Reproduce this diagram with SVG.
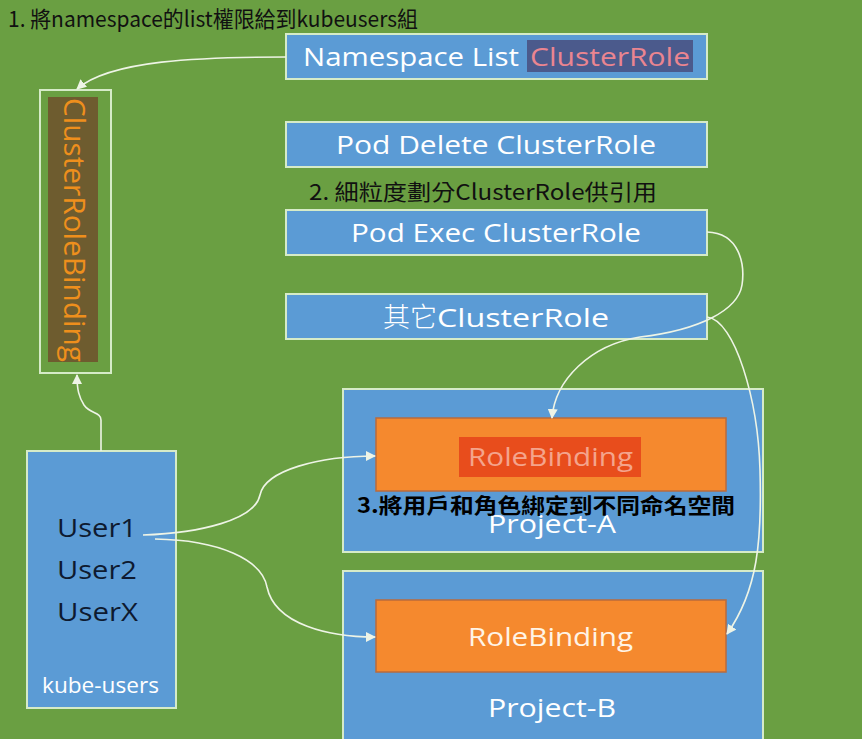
<svg xmlns="http://www.w3.org/2000/svg" width="862" height="739" viewBox="0 0 862 739">
<defs>
<marker id="ah" markerWidth="10" markerHeight="10" refX="9" refY="5" orient="auto" markerUnits="userSpaceOnUse">
<path d="M0,0 L10,5 L0,10 z" fill="#eef4e6"/>
</marker>
<style>
.sans{font-family:"Open Sans","Noto Sans","Noto Sans CJK TC",sans-serif;}
.cjk{font-family:"Noto Sans CJK TC","Noto Sans",sans-serif;}
.blue{fill:#5b9bd5;stroke:#d6ebc8;stroke-width:2;}
.orange{fill:#f5892e;stroke:#b96b3c;stroke-width:1.5;}
.wt{fill:#ffffff;font-size:26px;}
.con{fill:none;stroke:#eef4e6;stroke-width:1.6;marker-end:url(#ah);}
</style>
</defs>
<rect x="0" y="0" width="862" height="739" fill="#6a9f42"/>

<text class="cjk" x="8" y="27" font-size="22" fill="#111" textLength="410" lengthAdjust="spacingAndGlyphs">1. 將namespace的list權限給到kubeusers組</text>

<g id="ns-list">
<rect class="blue" x="286" y="34" width="421" height="45"/>
<rect x="527" y="40" width="166" height="32" fill="#4b5a8c"/>
<text class="sans wt" x="303" y="66" textLength="216" lengthAdjust="spacingAndGlyphs">Namespace List</text>
<text class="sans" x="530" y="66" font-size="26" fill="#ea8590" textLength="160" lengthAdjust="spacingAndGlyphs">ClusterRole</text>
</g>

<g id="pod-delete">
<rect class="blue" x="286" y="122" width="421" height="45"/>
<text class="sans wt" x="336" y="154" textLength="320" lengthAdjust="spacingAndGlyphs">Pod Delete ClusterRole</text>
</g>

<text class="cjk" x="309" y="200" font-size="22" fill="#111" textLength="348" lengthAdjust="spacingAndGlyphs">2. 細粒度劃分ClusterRole供引用</text>

<g id="pod-exec">
<rect class="blue" x="286" y="210" width="421" height="45"/>
<text class="sans wt" x="351" y="242" textLength="290" lengthAdjust="spacingAndGlyphs">Pod Exec ClusterRole</text>
</g>

<g id="other-role">
<rect class="blue" x="286" y="294" width="421" height="45"/>
<text class="cjk" x="383" y="327" font-size="27" font-weight="300" fill="#ffffff">其它</text>
<text class="sans wt" x="437" y="327" textLength="172" lengthAdjust="spacingAndGlyphs">ClusterRole</text>
</g>

<g id="crb">
<rect x="40" y="90" width="71" height="283" fill="none" stroke="#d6ebc8" stroke-width="2"/>
<rect x="48" y="97" width="50" height="265" fill="#6e5c2f"/>
<text class="sans" transform="translate(64,98) rotate(90)" x="0" y="0" font-size="29" fill="#ee8f1c" textLength="264" lengthAdjust="spacingAndGlyphs">ClusterRoleBinding</text>
</g>

<g id="kube-users">
<rect class="blue" x="27" y="451" width="149" height="257"/>
<text class="sans" x="57" y="537" font-size="26" fill="#0e1a30" textLength="80" lengthAdjust="spacingAndGlyphs">User1</text>
<text class="sans" x="57" y="579" font-size="26" fill="#0e1a30" textLength="80" lengthAdjust="spacingAndGlyphs">User2</text>
<text class="sans" x="57" y="621" font-size="26" fill="#0e1a30" textLength="81" lengthAdjust="spacingAndGlyphs">UserX</text>
<text class="sans" x="42" y="693" font-size="21" fill="#ffffff" textLength="117" lengthAdjust="spacingAndGlyphs">kube-users</text>
</g>

<g id="project-a">
<rect class="blue" x="343" y="389" width="420" height="163"/>
<rect class="orange" x="376" y="418" width="350" height="73"/>
<rect x="459" y="437" width="182" height="40" fill="#e84d1c"/>
<text class="sans" x="468" y="466" font-size="26" fill="#f4a48c" textLength="165" lengthAdjust="spacingAndGlyphs">RoleBinding</text>
<text class="sans wt" x="488" y="533" textLength="128" lengthAdjust="spacingAndGlyphs">Project-A</text>
</g>

<g id="project-b">
<rect class="blue" x="343" y="571" width="420" height="170"/>
<rect class="orange" x="376" y="600" width="350" height="72"/>
<text class="sans" x="468" y="646" font-size="26" fill="#fff4e6" textLength="165" lengthAdjust="spacingAndGlyphs">RoleBinding</text>
<text class="sans wt" x="488" y="717" textLength="128" lengthAdjust="spacingAndGlyphs">Project-B</text>
</g>

<text class="cjk" x="357" y="513" font-size="21" font-weight="bold" fill="#000" textLength="378" lengthAdjust="spacingAndGlyphs">3.將用戶和角色綁定到不同命名空間</text>

<g id="connectors">
<path class="con" d="M286,57 C200,57 110,60 77,89"/>
<path class="con" d="M101,451 L101,420 C101,412 90,414 84,405 C79,397 77,390 77,375"/>
<path class="con" d="M143,535 C200,533 255,520 260,495 C265,470 320,456 375,456"/>
<path class="con" d="M155,539 C220,540 262,560 267,587 C275,625 330,637 375,637"/>
<path class="con" d="M707,232 C740,233 745,265 742,285 C738,310 700,330 640,337 C590,345 555,380 552,418"/>
<path class="con" d="M707,317 C735,320 758,400 760,470 C762,540 758,590 727,634"/>
</g>
</svg>
